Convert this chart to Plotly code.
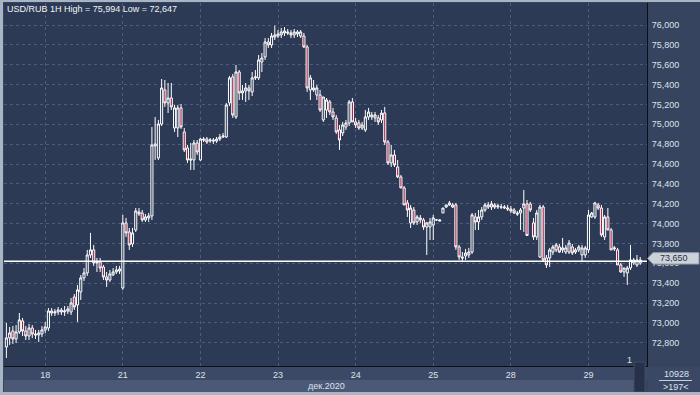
import plotly.graph_objects as go

# ---------------- data (USD/RUB, 1H candles, 17-29 Dec 2020) ----------------
open_ = [
    72.758, 72.849, 72.919, 72.838, 72.909, 73.020, 72.919, 72.868, 72.949, 72.889, 72.879, 72.889,
    72.929, 72.949, 73.120, 73.100, 73.110, 73.130, 73.110, 73.120, 73.110, 73.261, 73.181, 73.312,
    73.453, 73.503, 73.684, 73.735, 73.604, 73.614, 73.563, 73.463, 73.432, 73.483, 73.513, 73.523,
    73.352, 74.007, 73.916, 73.795, 73.936, 74.117, 74.107, 74.037, 74.057, 74.077, 74.782, 74.661,
    75.003, 75.346, 75.215, 75.265, 74.963, 74.963, 75.165, 74.923, 74.762, 74.651, 74.641, 74.812,
    74.641, 74.852, 74.852, 74.832, 74.842, 74.832, 74.852, 74.872, 74.872, 75.215, 75.477, 75.074,
    75.527, 75.316, 75.336, 75.366, 75.326, 75.467, 75.467, 75.628, 75.678, 75.829, 75.799, 75.879,
    75.889, 75.900, 75.920, 75.930, 75.920, 75.900, 75.910, 75.889, 75.889, 75.779, 75.346, 75.366,
    75.295, 75.295, 75.044, 75.144, 75.225, 75.124, 75.064, 74.943, 74.913, 74.973, 75.013, 75.225,
    75.024, 75.013, 74.963, 74.943, 75.074, 75.074, 75.064, 75.064, 75.044, 75.114, 74.822, 74.611,
    74.691, 74.570, 74.470, 74.359, 74.208, 74.007, 74.137, 74.017, 74.057, 74.037, 73.966, 73.966,
    73.986, 74.037, 74.037, 74.107, 74.167, 74.188, 74.188, 74.188, 73.765, 73.664, 73.674, 73.684,
    73.714, 74.067, 74.017, 74.067, 74.137, 74.167, 74.167, 74.188, 74.167, 74.167, 74.157, 74.157,
    74.147, 74.137, 74.107, 74.107, 74.157, 74.198, 74.198, 74.007, 73.866, 73.664, 74.167, 73.654,
    73.654, 73.714, 73.735, 73.765, 73.735, 73.714, 73.714, 73.765, 73.714, 73.735, 73.684, 73.684,
    73.735, 74.067, 74.067, 74.188, 74.157, 73.866, 74.067, 73.936, 73.745, 73.735, 73.584, 73.513,
    73.503, 73.553, 73.604, 73.584, 73.604,
]
high = [
    72.999, 72.959, 72.969, 72.979, 73.100, 73.050, 72.969, 72.989, 72.979, 72.929, 72.929, 72.969,
    73.010, 73.150, 73.150, 73.140, 73.160, 73.150, 73.170, 73.170, 73.251, 73.291, 73.382, 73.483,
    73.553, 73.735, 73.906, 73.785, 73.654, 73.654, 73.584, 73.513, 73.533, 73.553, 73.574, 73.574,
    74.087, 74.057, 73.956, 73.956, 74.157, 74.157, 74.137, 74.097, 74.107, 74.973, 75.074, 75.044,
    75.456, 75.446, 75.416, 75.416, 75.195, 75.195, 75.205, 74.963, 74.792, 74.812, 74.842, 74.842,
    74.862, 74.872, 74.872, 74.862, 74.862, 74.872, 74.903, 74.913, 75.215, 75.487, 75.507, 75.597,
    75.547, 75.396, 75.416, 75.396, 75.527, 75.547, 75.698, 75.718, 75.869, 75.869, 75.920, 75.994,
    75.950, 75.970, 75.980, 75.960, 75.950, 75.960, 75.950, 75.950, 75.920, 75.799, 75.497, 75.446,
    75.396, 75.346, 75.275, 75.265, 75.245, 75.165, 75.094, 74.993, 75.024, 75.044, 75.245, 75.265,
    75.064, 75.044, 75.024, 75.144, 75.165, 75.124, 75.124, 75.094, 75.144, 75.175, 74.842, 74.792,
    74.742, 74.641, 74.490, 74.379, 74.238, 74.188, 74.167, 74.087, 74.087, 74.057, 74.017, 74.057,
    74.087, 74.047, 74.047, 74.157, 74.188, 74.228, 74.208, 74.208, 73.785, 73.714, 73.745, 73.755,
    74.107, 74.107, 74.137, 74.167, 74.208, 74.218, 74.228, 74.208, 74.198, 74.198, 74.188, 74.188,
    74.178, 74.157, 74.127, 74.157, 74.339, 74.238, 74.218, 74.057, 74.137, 74.188, 74.188, 73.684,
    73.755, 73.785, 73.805, 73.795, 73.856, 73.785, 73.835, 73.795, 73.755, 73.785, 73.785, 73.775,
    74.137, 74.117, 74.218, 74.208, 74.188, 74.087, 74.157, 73.956, 73.775, 73.755, 73.604, 73.553,
    73.574, 73.785, 73.654, 73.684, 73.664,
]
low = [
    72.647, 72.778, 72.788, 72.798, 72.889, 72.868, 72.828, 72.828, 72.848, 72.838, 72.808, 72.858,
    72.899, 72.919, 73.070, 73.070, 73.080, 73.080, 73.070, 73.090, 73.080, 73.130, 73.010, 73.231,
    73.422, 73.473, 73.654, 73.574, 73.513, 73.513, 73.432, 73.362, 73.412, 73.473, 73.493, 73.493,
    73.332, 73.866, 73.735, 73.765, 73.916, 74.077, 74.017, 74.017, 74.017, 74.037, 74.641, 74.641,
    74.983, 75.175, 75.114, 75.144, 74.923, 74.872, 74.953, 74.721, 74.611, 74.540, 74.540, 74.691,
    74.631, 74.822, 74.802, 74.812, 74.802, 74.812, 74.832, 74.862, 74.862, 75.185, 75.064, 75.054,
    75.245, 75.245, 75.225, 75.245, 75.285, 75.446, 75.446, 75.527, 75.648, 75.769, 75.769, 75.849,
    75.869, 75.869, 75.889, 75.900, 75.869, 75.869, 75.879, 75.869, 75.769, 75.326, 75.245, 75.326,
    75.245, 75.124, 75.024, 75.064, 75.094, 75.044, 74.903, 74.742, 74.882, 74.943, 74.983, 75.024,
    74.963, 74.943, 74.943, 74.923, 75.044, 75.044, 75.024, 74.993, 75.013, 74.792, 74.590, 74.570,
    74.570, 74.459, 74.359, 74.188, 74.067, 73.956, 73.986, 73.986, 74.007, 73.936, 73.684, 73.835,
    73.835, 74.027, 74.027, 74.107, 74.157, 74.178, 74.157, 73.735, 73.634, 73.614, 73.634, 73.654,
    73.694, 73.936, 73.936, 74.037, 74.117, 74.147, 74.137, 74.147, 74.147, 74.147, 74.147, 74.127,
    74.107, 74.097, 74.077, 73.936, 73.916, 73.875, 74.117, 73.835, 73.835, 73.654, 73.614, 73.553,
    73.563, 73.684, 73.714, 73.704, 73.704, 73.694, 73.694, 73.684, 73.694, 73.714, 73.614, 73.654,
    73.704, 74.057, 74.047, 74.137, 73.866, 73.835, 73.936, 73.735, 73.724, 73.584, 73.503, 73.463,
    73.382, 73.533, 73.584, 73.563, 73.584,
]
close = [
    72.849, 72.899, 72.838, 72.909, 73.030, 72.919, 72.868, 72.949, 72.889, 72.879, 72.899, 72.929,
    72.959, 73.120, 73.100, 73.110, 73.130, 73.110, 73.120, 73.140, 73.201, 73.161, 73.332, 73.453,
    73.503, 73.684, 73.735, 73.604, 73.614, 73.553, 73.463, 73.432, 73.493, 73.513, 73.533, 73.543,
    74.007, 73.906, 73.785, 73.906, 74.127, 74.097, 74.037, 74.067, 74.077, 74.792, 74.802, 75.003,
    75.366, 75.215, 75.265, 75.175, 75.165, 75.165, 74.973, 74.742, 74.641, 74.641, 74.812, 74.721,
    74.852, 74.842, 74.822, 74.842, 74.832, 74.852, 74.872, 74.882, 75.195, 75.467, 75.094, 75.527,
    75.316, 75.336, 75.366, 75.336, 75.467, 75.477, 75.648, 75.668, 75.829, 75.799, 75.889, 75.900,
    75.910, 75.930, 75.940, 75.920, 75.900, 75.930, 75.930, 75.930, 75.779, 75.366, 75.467, 75.346,
    75.366, 75.144, 75.275, 75.245, 75.124, 75.074, 74.923, 74.842, 74.993, 75.013, 75.225, 75.024,
    74.993, 74.963, 74.993, 75.074, 75.124, 75.094, 75.094, 75.024, 75.112, 74.822, 74.611, 74.691,
    74.590, 74.470, 74.359, 74.188, 74.137, 74.157, 74.007, 74.067, 74.037, 73.966, 74.007, 74.017,
    74.057, 74.037, 74.027, 74.157, 74.188, 74.208, 74.167, 73.765, 73.664, 73.654, 73.704, 73.714,
    74.087, 74.017, 74.067, 74.137, 74.188, 74.188, 74.198, 74.167, 74.178, 74.167, 74.167, 74.147,
    74.127, 74.107, 74.097, 74.137, 74.198, 73.880, 74.137, 73.866, 74.107, 74.167, 73.634, 73.584,
    73.735, 73.765, 73.785, 73.714, 73.755, 73.755, 73.805, 73.704, 73.735, 73.765, 73.755, 73.755,
    74.087, 74.107, 74.208, 74.157, 73.886, 74.067, 73.936, 73.735, 73.755, 73.584, 73.513, 73.553,
    73.553, 73.634, 73.634, 73.634, 73.634,
]

day_tick_bars = [12, 36, 60, 84, 108, 132, 156, 180]
day_tick_labels = ["18", "21", "22", "23", "24", "25", "28", "29"]
price_ticks = [72.8, 73.0, 73.2, 73.4, 73.6, 73.8, 74.0, 74.2, 74.4, 74.6, 74.8,
               75.0, 75.2, 75.4, 75.6, 75.8, 76.0]
price_tick_labels = ["72,800", "73,000", "73,200", "73,400", "73,600", "73,800", "74,000",
                     "74,200", "74,400", "74,600", "74,800", "75,000", "75,200", "75,400",
                     "75,600", "75,800", "76,000"]
title_text = "USD/RUB 1H High = 75,994 Low = 72,647"
month_label = "дек.2020"
price_line = 73.62
price_tag_value = 73.65
price_tag_text = "73,650"
bars_total = "10928"
bars_visible = ">197<"

# ---------------- styling ----------------
PLOT_BG = "#2d3a55"
PAPER_BG = "#36445f"
GRID = "#4e5d7b"
TXT = "#dde2ea"
FONT = "Liberation Sans"
FS = 9

W, H = 700, 395
L, R, T, B = 4, 53, 3, 29
PW, PH = W - L - R, H - T - B


def px(xp):
    return (xp - L) / PW


def py(yp):
    return (H - B - yp) / PH


bars = list(range(len(close)))

fig = go.Figure(go.Candlestick(
    x=bars, open=open_, high=high, low=low, close=close,
    increasing=dict(line=dict(color="#ffffff", width=1), fillcolor=PLOT_BG),
    decreasing=dict(line=dict(color="#ffffff", width=1), fillcolor="#a11d42"),
    whiskerwidth=0, hoverinfo="skip", showlegend=False,
))

fig.update_layout(
    width=W, height=H,
    margin=dict(l=L, r=R, t=T, b=B, pad=0),
    paper_bgcolor=PAPER_BG, plot_bgcolor=PLOT_BG,
    boxgap=0.08,
    font=dict(family=FONT, size=FS, color=TXT),
    showlegend=False,
)
fig.update_xaxes(
    range=[-0.74, 198.1], fixedrange=True,
    rangeslider=dict(visible=False),
    tickmode="array", tickvals=day_tick_bars, ticktext=day_tick_labels,
    showgrid=True, gridcolor=GRID, griddash="3px,3px", gridwidth=1,
    zeroline=False, showline=True, linecolor="#0c0f16", linewidth=1,
    ticks="", tickfont=dict(family=FONT, size=FS, color=TXT),
)
fig.update_yaxes(
    range=[72.566, 76.2215], side="right", fixedrange=True,
    tickmode="array", tickvals=price_ticks, ticktext=price_tick_labels,
    showgrid=True, gridcolor=GRID, griddash="3px,3px", gridwidth=1,
    zeroline=False, showline=True, linecolor="#0c0f16", linewidth=1,
    ticks="", ticklabelstandoff=2, tickfont=dict(family=FONT, size=FS, color=TXT),
)

shapes = []
# bottom bands
shapes.append(dict(type="rect", xref="paper", yref="paper", x0=px(0), x1=px(700),
                   y0=py(367), y1=py(380), fillcolor="#3b4966", line=dict(width=0), layer="below"))
shapes.append(dict(type="rect", xref="paper", yref="paper", x0=px(4), x1=px(634),
                   y0=py(380), y1=py(392), fillcolor="#4b5977", line=dict(width=0), layer="below"))
shapes.append(dict(type="rect", xref="paper", yref="paper", x0=px(648), x1=px(700),
                   y0=py(367), y1=py(392), fillcolor="#3a4865", line=dict(width=0), layer="below"))
# scroll thumb
shapes.append(dict(type="rect", xref="paper", yref="paper", x0=px(634), x1=px(645),
                   y0=py(362), y1=py(392), fillcolor="#27324a", line=dict(color="#3f4c68", width=1)))
# borders
shapes.append(dict(type="rect", xref="paper", yref="paper", x0=px(0), x1=px(3),
                   y0=py(395), y1=py(0), fillcolor="#a9b4c4", line=dict(width=0)))
shapes.append(dict(type="rect", xref="paper", yref="paper", x0=px(0), x1=px(700),
                   y0=py(2), y1=py(0), fillcolor="#a9b4c4", line=dict(width=0)))
shapes.append(dict(type="rect", xref="paper", yref="paper", x0=px(0), x1=px(700),
                   y0=py(395), y1=py(392), fillcolor="#a9b4c4", line=dict(width=0)))
# separator under bars total
shapes.append(dict(type="line", xref="paper", yref="paper", x0=px(659), x1=px(692),
                   y0=py(380.5), y1=py(380.5), line=dict(color="#c9ced8", width=1)))
# current price line
shapes.append(dict(type="line", xref="paper", yref="y", x0=0, x1=1,
                   y0=price_line, y1=price_line, line=dict(color="#ffffff", width=1.5)))
# price tag
dy = 0.058
shapes.append(dict(type="path", xref="paper", yref="y",
                   path=(f"M {px(647.5)},{price_tag_value} L {px(653)},{price_tag_value + dy} "
                         f"L {px(699)},{price_tag_value + dy} L {px(699)},{price_tag_value - dy} "
                         f"L {px(653)},{price_tag_value - dy} Z"),
                   fillcolor="#cdd1d8", line=dict(color="#8d96a6", width=1)))
fig.update_layout(shapes=shapes)

ann = [
    dict(text=title_text, xref="paper", yref="paper", x=px(5), y=py(9),
         xanchor="left", yanchor="middle", showarrow=False,
         font=dict(family=FONT, size=FS, color="#f2f4f7")),
    dict(text=month_label, xref="paper", yref="paper", x=px(347), y=py(386),
         xanchor="right", yanchor="middle", showarrow=False,
         font=dict(family=FONT, size=FS, color=TXT)),
    dict(text=price_tag_text, xref="paper", yref="y", x=px(674), y=price_tag_value,
         xanchor="center", yanchor="middle", showarrow=False,
         font=dict(family=FONT, size=FS, color="#26314a")),
    dict(text="1", xref="paper", yref="paper", x=px(629), y=py(360),
         xanchor="center", yanchor="middle", showarrow=False,
         font=dict(family=FONT, size=FS, color=TXT)),
    dict(text=bars_total, xref="paper", yref="paper", x=px(676), y=py(374),
         xanchor="center", yanchor="middle", showarrow=False,
         font=dict(family=FONT, size=FS, color=TXT)),
    dict(text=bars_visible, xref="paper", yref="paper", x=px(676), y=py(387),
         xanchor="center", yanchor="middle", showarrow=False,
         font=dict(family=FONT, size=FS, color=TXT)),
]
fig.update_layout(annotations=ann)

fig.write_html("out.html", config={"displayModeBar": False, "staticPlot": True})
